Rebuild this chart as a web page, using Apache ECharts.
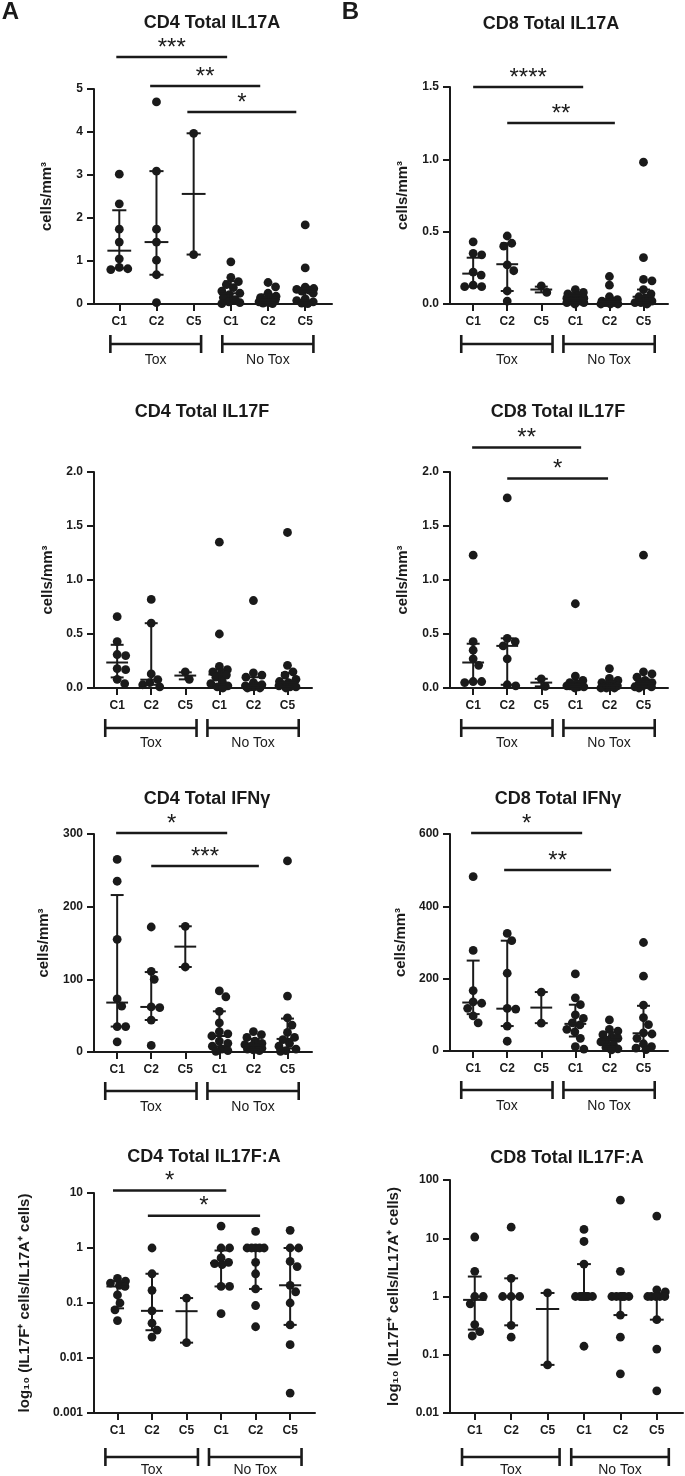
<!DOCTYPE html>
<html><head><meta charset="utf-8">
<script src="https://cdn.jsdelivr.net/npm/echarts@6/dist/echarts.min.js"></script>
<style>html,body{margin:0;padding:0;background:#fff}#c{width:685px;height:1476px}</style>
</head><body><div id="c"></div>
<script>
// ---------- categories / labels ----------
const categories = ['C1','C2','C5','C1','C2','C5'];
const groupLabels = ['Tox','No Tox'];
const titles = ['CD4 Total IL17A','CD8 Total IL17A','CD4 Total IL17F','CD8 Total IL17F','CD4 Total IFNγ','CD8 Total IFNγ','CD4 Total IL17F:A','CD8 Total IL17F:A'];
const yNameCells = 'cells/mm³';
const yNameRatio = 'log₁₀ (IL17F⁺ cells/IL17A⁺ cells)';

// ---------- CD4 Total IL17A ----------
const cd4IL17A = [[3.02,2.33,1.74,1.44,1.05,0.85,0.82,0.80],[4.70,3.09,1.74,1.44,1.02,0.68,0.03],[3.97,1.15],
  [0.98,0.62,0.52,0.45,0.38,0.30,0.25,0.22,0.15,0.10,0.05,0.03,0.01],[0.50,0.40,0.25,0.18,0.15,0.12,0.10,0.08,0.05,0.03,0.02,0.01],
  [1.84,0.84,0.39,0.36,0.34,0.32,0.30,0.25,0.12,0.08,0.05,0.02,0.01]];
const cd4IL17A_median = [1.24,1.44,2.56,0.25,0.11,0.30];
const cd4IL17A_low = [0.83,0.68,1.15,0.07,0.04,0.08];
const cd4IL17A_high = [2.18,3.09,3.97,0.53,0.22,0.37];
const cd4IL17A_sig = [[-0.08,2.90,5.744,'***'],[0.83,3.79,5.07,'**'],[1.83,4.76,4.465,'*']];

// ---------- CD8 Total IL17A ----------
const cd8IL17A = [[0.43,0.35,0.34,0.22,0.20,0.13,0.12,0.12],[0.47,0.42,0.40,0.27,0.23,0.09,0.02],[0.125,0.08],
  [0.10,0.08,0.07,0.06,0.05,0.04,0.04,0.03,0.02,0.02,0.01,0.01,0.0],[0.19,0.13,0.05,0.03,0.02,0.02,0.01,0.01,0.01,0.0,0.0,0.0],
  [0.98,0.32,0.17,0.16,0.10,0.07,0.05,0.04,0.02,0.01,0.01,0.0]];
const cd8IL17A_median = [0.21,0.275,0.10,0.035,0.015,0.05];
const cd8IL17A_low = [0.12,0.09,0.08,0.01,0.005,0.01];
const cd8IL17A_high = [0.32,0.42,0.12,0.06,0.03,0.10];
const cd8IL17A_sig = [[0.0,3.23,1.50,'****'],[1.0,4.16,1.251,'**']];

// ---------- CD4 Total IL17F ----------
const cd4IL17F = [[0.66,0.43,0.31,0.30,0.18,0.17,0.08,0.04],[0.82,0.60,0.13,0.077,0.05,0.03,0.01],[0.15,0.08],
  [1.35,0.50,0.20,0.17,0.15,0.13,0.12,0.10,0.06,0.04,0.02,0.01,0.0],[0.81,0.14,0.12,0.10,0.05,0.03,0.02,0.02,0.01,0.01,0.0,0.0],
  [1.44,0.21,0.15,0.12,0.08,0.06,0.05,0.04,0.03,0.02,0.01,0.01,0.0]];
const cd4IL17F_median = [0.236,0.077,0.115,0.125,0.025,0.05];
const cd4IL17F_low = [0.098,0.03,0.08,0.03,0.005,0.01];
const cd4IL17F_high = [0.40,0.60,0.145,0.17,0.10,0.14];
const cd4IL17F_sig = [];

// ---------- CD8 Total IL17F ----------
const cd8IL17F = [[1.23,0.43,0.35,0.27,0.21,0.06,0.06,0.05],[1.76,0.46,0.43,0.39,0.27,0.03,0.02],[0.085,0.015],
  [0.78,0.11,0.07,0.05,0.04,0.03,0.03,0.02,0.02,0.01,0.01,0.0],[0.18,0.09,0.07,0.05,0.04,0.03,0.02,0.01,0.01,0.0,0.0,0.0],
  [1.23,0.15,0.13,0.10,0.07,0.05,0.04,0.03,0.02,0.01,0.01,0.0]];
const cd8IL17F_median = [0.236,0.39,0.05,0.03,0.025,0.04];
const cd8IL17F_low = [0.06,0.03,0.015,0.01,0.005,0.01];
const cd8IL17F_high = [0.41,0.46,0.085,0.06,0.06,0.08];
const cd8IL17F_sig = [[-0.03,3.17,2.227,'**'],[1.0,3.96,1.94,'*']];

// ---------- CD4 Total IFNγ ----------
const cd4IFNg = [[265,235,155,73,63,35,35,14],[172,111,100,62,61,44,9],[173,117],
  [84,76,56,40,28,25,22,15,12,8,4,2,1],[28,24,20,15,12,10,8,6,5,4,3,2],[263,77,47,37,27,20,17,12,8,4,2,1]];
const cd4IFNg_median = [68,62,145,22,9,18];
const cd4IFNg_low = [35,44,117,8,4,5];
const cd4IFNg_high = [216,110,173,56,18,46];
const cd4IFNg_sig = [[-0.03,3.23,301.4,'*'],[1.0,4.16,255.9,'***']];

// ---------- CD8 Total IFNγ ----------
const cd8IFNg = [[482,278,167,136,132,118,97,78],[325,305,215,118,116,69,27],[163,77],
  [213,147,128,100,90,78,72,60,53,35,12,5],[86,60,55,45,38,35,30,25,18,10,6,3],[300,207,127,92,73,50,47,35,20,12,8,4]];
const cd8IFNg_median = [134,117,120,75,33,49];
const cd8IFNg_low = [102,69,77,40,12,15];
const cd8IFNg_high = [250,305,163,128,52,125];
const cd8IFNg_sig = [[-0.06,3.2,602.7,'*'],[0.91,4.05,500.4,'**']];

// ---------- CD4 Total IL17F:A ----------
const cd4Ratio = [[0.28,0.25,0.23,0.21,0.20,0.14,0.10,0.075,0.048],[1.0,0.34,0.17,0.072,0.043,0.032,0.024],[0.123,0.019],
  [2.5,1.0,1.0,0.66,0.55,0.52,0.50,0.2,0.2,0.064],[2.0,1.0,1.0,1.0,1.0,1.0,0.55,0.34,0.18,0.09,0.037],
  [2.1,1.0,1.0,0.57,0.46,0.21,0.16,0.1,0.04,0.0175,0.0023]];
const cd4Ratio_median = [0.20,0.072,0.071,0.535,1.0,0.21];
const cd4Ratio_low = [0.08,0.032,0.019,0.2,0.18,0.04];
const cd4Ratio_high = [0.25,0.34,0.123,0.9,1.0,1.0];
const cd4Ratio_sig = [[-0.13,3.15,11.15,'*'],[0.88,4.13,3.86,'*']];

// ---------- CD8 Total IL17F:A ----------
const cd8Ratio = [[10.5,2.7,1.0,1.0,0.75,0.33,0.25,0.21],[15.5,2.05,1.0,1.0,1.0,0.32,0.2],[1.15,0.067],
  [14.2,8.8,3.6,1.0,1.0,1.0,1.0,1.0,1.0,1.0,0.14],[45,2.7,1.0,1.0,1.0,1.0,1.0,1.0,0.48,0.2,0.047],
  [24,1.3,1.2,1.0,1.0,1.0,1.0,1.0,0.4,0.125,0.024]];
const cd8Ratio_median = [0.875,1.0,0.61,1.0,1.0,1.0];
const cd8Ratio_low = [0.27,0.32,0.067,1.0,0.48,0.4];
const cd8Ratio_high = [2.2,2.05,1.15,3.6,1.0,1.0];
const cd8Ratio_sig = [];

// ---------- layout ----------
const FONT = '"Liberation Sans", Arial, Helvetica, sans-serif';
const INK = '#1a1a1a';
const XMIN = -0.68, XMAX = 5.72;
const BR_STD = [[-0.35,2.33],[2.65,5.33]];

const panels = [
  {title:titles[0], yName:yNameCells, data:cd4IL17A, med:cd4IL17A_median, lo:cd4IL17A_low, hi:cd4IL17A_high, sig:cd4IL17A_sig,
   log:false, ymin:0, ymax:5, interval:1, dec:0, grid:{left:94,top:89,width:238,height:215}, tpos:[212,23], gap:39.5, br:[[-0.24,2.2],[2.77,5.22]], brY:40, lbY:56},
  {title:titles[1], yName:yNameCells, data:cd8IL17A, med:cd8IL17A_median, lo:cd8IL17A_low, hi:cd8IL17A_high, sig:cd8IL17A_sig,
   log:false, ymin:0, ymax:1.5, interval:0.5, dec:1, grid:{left:450,top:87,width:218,height:217}, tpos:[551,24], gap:39.5, br:BR_STD, brY:40, lbY:56},
  {title:titles[2], yName:yNameCells, data:cd4IL17F, med:cd4IL17F_median, lo:cd4IL17F_low, hi:cd4IL17F_high, sig:cd4IL17F_sig,
   log:false, ymin:0, ymax:2, interval:0.5, dec:1, grid:{left:94,top:472,width:218,height:216}, tpos:[202,412], gap:38.5, br:BR_STD, brY:40, lbY:55},
  {title:titles[3], yName:yNameCells, data:cd8IL17F, med:cd8IL17F_median, lo:cd8IL17F_low, hi:cd8IL17F_high, sig:cd8IL17F_sig,
   log:false, ymin:0, ymax:2, interval:0.5, dec:1, grid:{left:450,top:472,width:218,height:216}, tpos:[558,412], gap:39.5, br:BR_STD, brY:40, lbY:55},
  {title:titles[4], yName:yNameCells, data:cd4IFNg, med:cd4IFNg_median, lo:cd4IFNg_low, hi:cd4IFNg_high, sig:cd4IFNg_sig,
   log:false, ymin:0, ymax:300, interval:100, dec:0, grid:{left:94,top:834,width:218,height:218}, tpos:[207,799], gap:43, br:BR_STD, brY:39, lbY:55},
  {title:titles[5], yName:yNameCells, data:cd8IFNg, med:cd8IFNg_median, lo:cd8IFNg_low, hi:cd8IFNg_high, sig:cd8IFNg_sig,
   log:false, ymin:0, ymax:600, interval:200, dec:0, grid:{left:450,top:834,width:218,height:217}, tpos:[558,799], gap:42, br:BR_STD, brY:39, lbY:55},
  {title:titles[6], yName:yNameRatio, data:cd4Ratio, med:cd4Ratio_median, lo:cd4Ratio_low, hi:cd4Ratio_high, sig:cd4Ratio_sig,
   log:true, ymin:0.001, ymax:10, grid:{left:94,top:1193,width:221,height:220}, tpos:[204,1157], gap:62, br:BR_STD, brY:44, lbY:57},
  {title:titles[7], yName:yNameRatio, data:cd8Ratio, med:cd8Ratio_median, lo:cd8Ratio_low, hi:cd8Ratio_high, sig:cd8Ratio_sig,
   log:true, ymin:0.01, ymax:100, grid:{left:450,top:1180,width:233,height:233}, tpos:[567,1158], gap:49, br:BR_STD, brY:44, lbY:57}
];

function valToPx(p, v) {
  if (p.log) return (Math.log10(v) - Math.log10(p.ymin)) / (Math.log10(p.ymax) - Math.log10(p.ymin)) * p.grid.height;
  return (v - p.ymin) / (p.ymax - p.ymin) * p.grid.height;
}
function swarmOffsets(p, vals) {
  const unit = p.grid.width / (XMAX - XMIN);
  const D = 8.4, limit = 0.25 * unit;
  const ys = vals.map(v => valToPx(p, v));
  const order = ys.map((_, i) => i).sort((a, b) => ys[b] - ys[a]);
  const placed = [], off = new Array(vals.length).fill(0);
  const cands = [0]; for (let s = 0.5; s <= limit; s += 0.5) cands.push(s, -s);
  for (const i of order) {
    let chosen = null, bestC = 0, bestD = -1;
    for (const c of cands) {
      let md = Infinity;
      for (const q of placed) { const d = Math.hypot(q[0] - c, q[1] - ys[i]); if (d < md) md = d; }
      if (md >= D) { chosen = c; break; }
      if (md > bestD + 1e-6) { bestD = md; bestC = c; }
    }
    if (chosen === null) chosen = bestC;
    placed.push([chosen, ys[i]]); off[i] = chosen / unit;
  }
  return off;
}

const grids = [], xAxes = [], yAxes = [], series = [], graphics = [];
const lineStyle = {stroke: INK, lineWidth: 2};

panels.forEach((p, k) => {
  grids.push(Object.assign({containLabel:false}, p.grid));
  xAxes.push({gridIndex:k, type:'value', min:XMIN, max:XMAX,
    axisLine:{show:true, onZero:false, lineStyle:{color:INK, width:2}},
    axisTick:{show:true, customValues:[0,1,2,3,4,5], length:7, lineStyle:{color:INK, width:2}},
    axisLabel:{customValues:[0,1,2,3,4,5], formatter:v => categories[Math.round(v)], fontFamily:FONT, fontSize:12, fontWeight:'bold', color:INK, margin:12},
    splitLine:{show:false}});
  const ya = {gridIndex:k, type:p.log ? 'log' : 'value', min:p.ymin, max:p.ymax,
    name:p.yName, nameLocation:'middle', nameRotate:90, nameGap:p.gap,
    nameTextStyle:{fontFamily:FONT, fontSize:15, fontWeight:'bold', color:INK},
    axisLine:{show:true, onZero:false, lineStyle:{color:INK, width:2}},
    axisTick:{show:true, length:7, lineStyle:{color:INK, width:2}},
    axisLabel:{fontFamily:FONT, fontSize:12, fontWeight:'bold', color:INK, margin:11,
      formatter: p.log ? (v => String(+(+v).toPrecision(2))) : (v => (+v).toFixed(p.dec))},
    splitLine:{show:false}};
  if (p.log) ya.logBase = 10; else ya.interval = p.interval;
  yAxes.push(ya);

  // dots
  const pts = [];
  p.data.forEach((vals, ci) => {
    const off = swarmOffsets(p, vals);
    vals.forEach((v, j) => pts.push([ci + off[j], v]));
  });
  series.push({type:'scatter', xAxisIndex:k, yAxisIndex:k, data:pts, symbol:'circle', symbolSize:8.8,
    itemStyle:{color:INK, opacity:1}, silent:true, z:2});

  // median + IQR bars
  series.push({type:'custom', xAxisIndex:k, yAxisIndex:k, z:3, silent:true, clip:false,
    data:p.med.map((m, i) => [i, m, p.lo[i], p.hi[i]]),
    renderItem:(params, api) => {
      const x = api.value(0);
      const pm = api.coord([x, api.value(1)]), pl = api.coord([x, api.value(2)]), ph = api.coord([x, api.value(3)]);
      const unit = api.coord([x + 1, api.value(1)])[0] - pm[0];
      const mw = unit * 0.32, cw = unit * 0.19;
      return {type:'group', children:[
        {type:'line', shape:{x1:pl[0], y1:pl[1], x2:ph[0], y2:ph[1]}, style:lineStyle},
        {type:'line', shape:{x1:pl[0]-cw, y1:pl[1], x2:pl[0]+cw, y2:pl[1]}, style:lineStyle},
        {type:'line', shape:{x1:ph[0]-cw, y1:ph[1], x2:ph[0]+cw, y2:ph[1]}, style:lineStyle},
        {type:'line', shape:{x1:pm[0]-mw, y1:pm[1], x2:pm[0]+mw, y2:pm[1]}, style:lineStyle}
      ]};
    }});

  // significance bars
  if (p.sig.length) {
    series.push({type:'custom', xAxisIndex:k, yAxisIndex:k, z:3, silent:true, clip:false,
      data:p.sig.map(s => [s[0], s[2], s[1]]), encode:{x:0, y:1},
      renderItem:(params, api) => {
        const s = p.sig[params.dataIndex];
        const a = api.coord([api.value(0), api.value(1)]), b = api.coord([api.value(2), api.value(1)]);
        return {type:'group', children:[
          {type:'line', shape:{x1:a[0], y1:a[1], x2:b[0], y2:b[1]}, style:{stroke:INK, lineWidth:2.5}},
          {type:'text', style:{text:s[3], x:(a[0]+b[0])/2, y:a[1]-9, align:'center', verticalAlign:'middle',
            font:'24px ' + FONT, fill:INK}}
        ]};
      }});
  }

  // group brackets
  series.push({type:'custom', xAxisIndex:k, yAxisIndex:k, z:3, silent:true, clip:false,
    data:p.br.map(b => [b[0], p.ymin, b[1]]), encode:{x:0, y:1},
    renderItem:(params, api) => {
      const a = api.coord([api.value(0), api.value(1)]), b = api.coord([api.value(2), api.value(1)]);
      const y = a[1] + p.brY, ly = a[1] + p.lbY;
      const st = {stroke:INK, lineWidth:2.6};
      return {type:'group', children:[
        {type:'line', shape:{x1:a[0], y1:y, x2:b[0], y2:y}, style:st},
        {type:'line', shape:{x1:a[0], y1:y-9, x2:a[0], y2:y+9}, style:st},
        {type:'line', shape:{x1:b[0], y1:y-9, x2:b[0], y2:y+9}, style:st},
        {type:'text', style:{text:groupLabels[params.dataIndex], x:(a[0]+b[0])/2, y:ly, align:'center', verticalAlign:'middle',
          font:'14px ' + FONT, fill:INK}}
      ]};
    }});

  graphics.push({type:'text', x:p.tpos[0], y:p.tpos[1], style:{text:p.title, align:'center', verticalAlign:'middle',
    font:'bold 18px ' + FONT, fill:INK}});
});

graphics.push({type:'text', x:10.5, y:12, style:{text:'A', align:'center', verticalAlign:'middle', font:'bold 24px ' + FONT, fill:INK}});
graphics.push({type:'text', x:350.5, y:12, style:{text:'B', align:'center', verticalAlign:'middle', font:'bold 24px ' + FONT, fill:INK}});

const chart = echarts.init(document.getElementById('c'), null, {renderer:'canvas'});
chart.setOption({animation:false, backgroundColor:'#fff', grid:grids, xAxis:xAxes, yAxis:yAxes, series:series, graphic:graphics});
</script></body></html>
